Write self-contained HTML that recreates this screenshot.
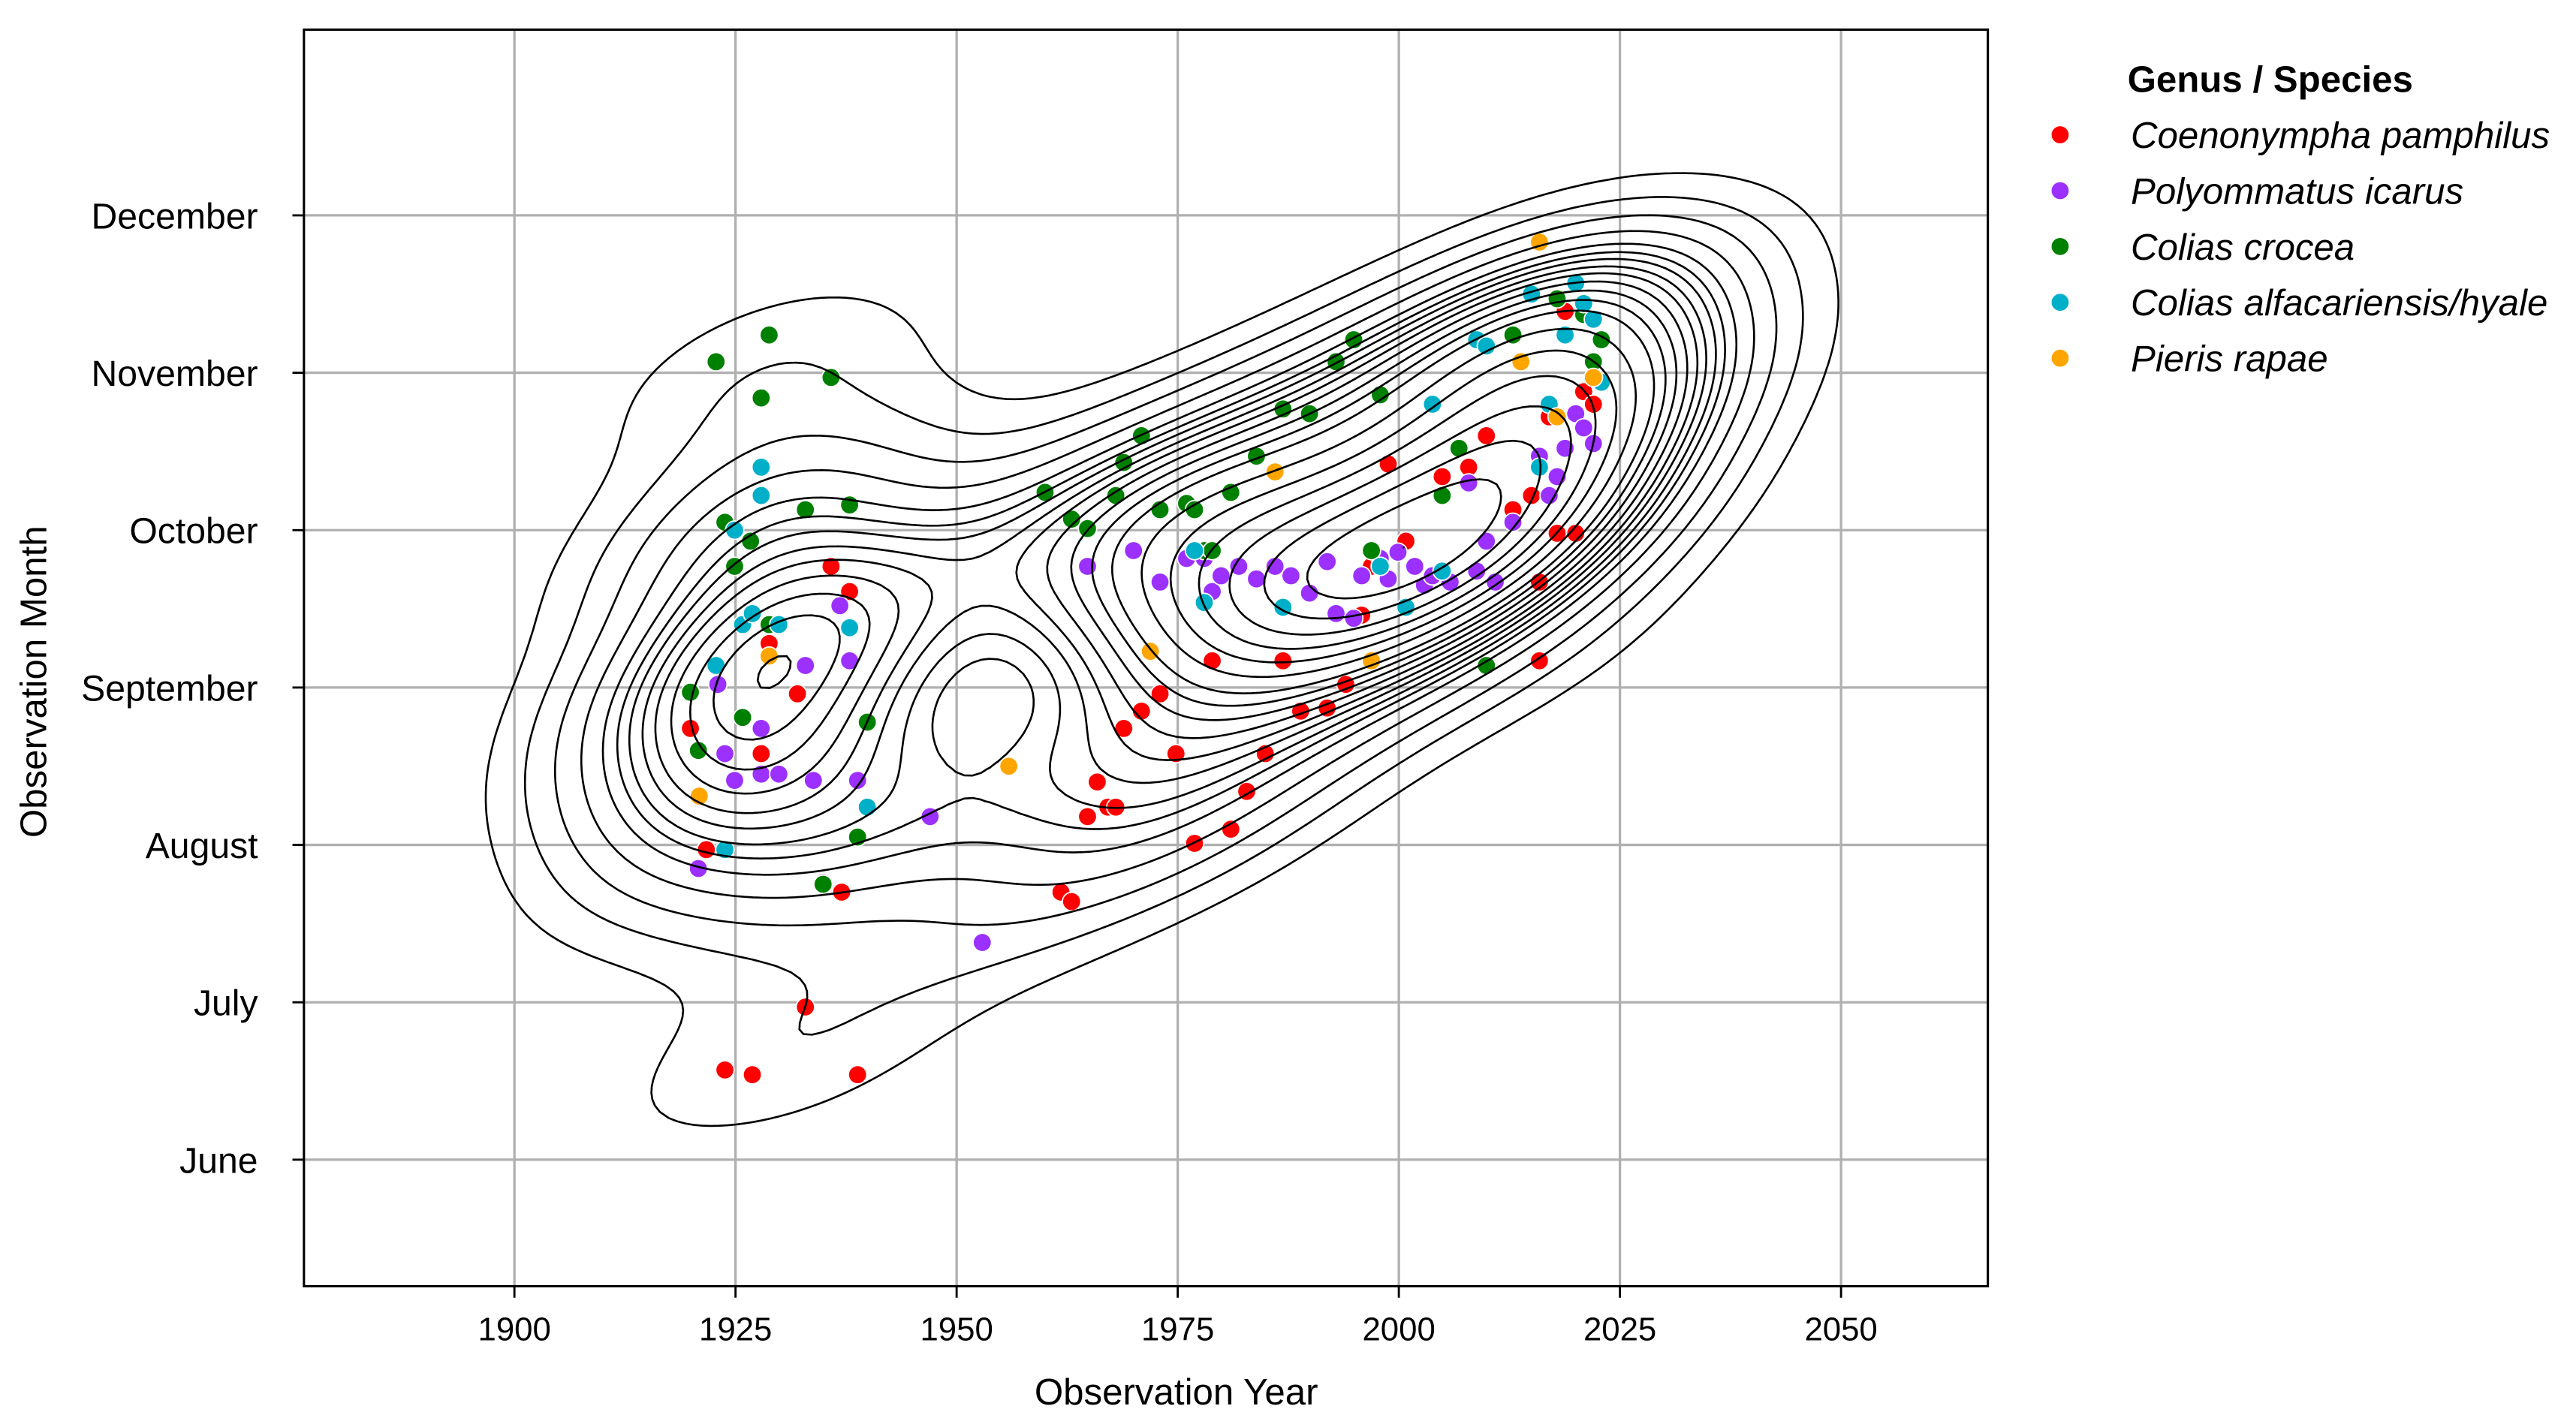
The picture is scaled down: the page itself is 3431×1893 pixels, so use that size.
<!DOCTYPE html>
<html><head><meta charset="utf-8">
<style>
html,body{margin:0;padding:0;background:#fff;}
svg{display:block;}
text{font-family:"Liberation Sans",Arial,sans-serif;fill:#000;}
</style></head>
<body>
<svg id="chart" width="3431" height="1893" viewBox="0 0 1568 865" xmlns="http://www.w3.org/2000/svg">
<g id="grid"></g>
<g id="pts"></g>
<g id="cont"></g>
<rect x="185" y="18" width="1025" height="765" fill="none" stroke="#000" stroke-width="1.4"/>
<g id="xt"></g>
<g id="yt"></g>
<text x="716" y="855" font-size="22.5" text-anchor="middle">Observation Year</text>
<text transform="translate(28,415) rotate(-90)" font-size="22.5" text-anchor="middle">Observation Month</text>
<g id="legend">
<text x="1295" y="56" font-size="22.5" font-weight="bold">Genus / Species</text>
</g>
</svg>
<script>
const xTicks=[1900,1925,1950,1975,2000,2025,2050];
const yTicks=[6,7,8,9,10,11,12];
const yTickLabels=["June","July","August","September","October","November","December"];
const species=["Coenonympha pamphilus","Polyommatus icarus","Colias crocea","Colias alfacariensis/hyale","Pieris rapae"];
const speciesColors=["#ff0000","#9b30ff","#008000","#00b0c8","#ffa500"];
const redYears=[1919.9,1921.7,1928.8,1927.9,1932,1935.8,1937.9,1937,1932.9,1923.8,1926.9,1938.8,1961.8,1963,1965.9,1964.8,1967.1,1968,1968.9,1970.9,1973,1974.8,1976.9,1978.9,1981,1982.8,1984.9,1986.9,1988.9,1991.9,1994,1995.8,1996.9,2000.8,1998.8,2004.9,2007.9,2009.9,2012.9,2015,2015.9,2015.9,2017.9,2020,2017,2020.9,2022,2018.8];
const redMonths=[8.74,7.97,9.28,8.58,8.96,9.77,9.61,7.70,6.97,6.57,6.54,6.54,7.70,7.64,8.40,8.18,8.24,8.24,8.74,8.85,8.96,8.58,8.01,9.17,8.10,8.34,8.58,9.17,8.85,8.87,9.02,9.46,9.77,9.93,10.42,10.34,10.40,10.60,10.13,10.22,9.67,9.17,9.98,9.98,10.72,10.88,10.80,11.39];
const purpleYears=[1920.8,1923,1923.8,1924.9,1927.9,1927.9,1929.9,1932.9,1933.8,1937.9,1936.8,1938.8,1934.9,1947,1952.9,1964.8,1970,1973,1976,1978,1978.9,1979.9,1981.9,1983.9,1986,1987.8,1989.9,1991.9,1992.9,1994.9,1995.8,1997.9,1998.8,1999.9,2001.8,2002.9,2003.8,2005.8,2007.9,2008.8,2010.9,2009.9,2012.9,2015.9,2017,2017.9,2018.8,2020,2020.9,2022];
const purpleMonths=[7.85,9.02,8.58,8.41,8.74,8.45,8.45,9.14,8.41,9.17,9.52,8.41,7.76,8.18,7.38,9.77,9.87,9.67,9.82,9.82,9.61,9.71,9.77,9.69,9.77,9.71,9.60,9.80,9.47,9.44,9.71,9.82,9.69,9.86,9.77,9.65,9.71,9.67,10.30,9.74,9.67,9.93,10.05,10.47,10.22,10.34,10.52,10.74,10.65,10.55];
const greenYears=[1922.8,1928.8,1927.9,1935.8,1923.8,1926.7,1924.9,1928.8,1919.9,1925.8,1920.8,1932.9,1937.9,1939.9,1938.8,1934.9,1960,1963,1964.8,1968,1968.9,1970.9,1973,1976,1976.9,1978,1978.9,1981,1983.9,1986.9,1989.9,1992.9,1994.9,1997.9,1996.9,2004.9,2006.8,2009.9,2012.9,2017.9,2020.9,2022.9,2022];
const greenMonths=[11.07,11.24,10.84,10.97,10.05,9.93,9.77,9.40,8.97,8.81,8.60,10.13,10.16,8.78,8.05,7.75,10.24,10.07,10.01,10.22,10.43,10.60,10.13,10.17,10.13,9.87,9.87,10.24,10.47,10.77,10.74,11.07,11.21,10.86,9.87,10.22,10.52,9.14,11.24,11.47,11.37,11.21,11.07];
const cyanYears=[1927.9,1927.9,1924.9,1925.8,1926.9,1929.9,1922.8,1937.9,1939.9,1923.8,1976.9,1978,1986.9,2000.8,2004.9,2003.8,2008.8,2009.9,2015,2015.9,2017,2018.8,2020,2020.9,2022,2022.9,1997.9];
const cyanMonths=[10.40,10.22,10.0,9.40,9.47,9.40,9.14,9.38,8.24,7.97,9.87,9.54,9.51,9.51,9.74,10.80,11.21,11.17,11.50,10.40,10.80,11.24,11.57,11.44,11.34,10.94,9.77];
const orangeYears=[1920.9,1928.8,1955.9,1971.9,1986,1996.9,2013.8,2015.9,2017.9,2022];
const orangeMonths=[8.31,9.20,8.50,9.23,10.37,9.17,11.07,11.83,10.72,10.97];

const NS='http://www.w3.org/2000/svg';
const X0=185,X1=1210,Y0=18,Y1=783;
const xmin=1876.2,xmax=2066.6,ymin=5.196,ymax=13.18;
const sx=v=>X0+(v-xmin)/(xmax-xmin)*(X1-X0);
const sy=v=>Y1-(v-ymin)/(ymax-ymin)*(Y1-Y0);
function el(tag,attrs,parent){const e=document.createElementNS(NS,tag);for(const k in attrs)e.setAttribute(k,attrs[k]);parent.appendChild(e);return e;}
const grid=document.getElementById('grid'),xt=document.getElementById('xt'),yt=document.getElementById('yt');
xTicks.forEach(t=>{const x=sx(t);
 const g=el('line',{x1:x,x2:x,y1:Y0,y2:Y1,stroke:'#b0b0b0','stroke-width':1.5},grid);
 
 
 const tk=el('line',{x1:x,x2:x,y1:Y1,y2:Y1+7,stroke:'#000','stroke-width':1.3},xt);
 
 
 const tx=el('text',{x:x,y:Y1+33,'font-size':20,'text-anchor':'middle'},xt);tx.textContent=t;
 
 
});
yTicks.forEach((t,i)=>{const y=sy(t);
 const g=el('line',{x1:X0,x2:X1,y1:y,y2:y,stroke:'#b0b0b0','stroke-width':1.5},grid);
 
 
 const tk=el('line',{x1:X0-7,x2:X0,y1:y,y2:y,stroke:'#000','stroke-width':1.3},yt);
 
 
 const tx=el('text',{x:X0-28,y:y+8,'font-size':22,'text-anchor':'end'},yt);tx.textContent=yTickLabels[i];
 
 
});
const sets=[[redYears,redMonths],[purpleYears,purpleMonths],[greenYears,greenMonths],[cyanYears,cyanMonths],[orangeYears,orangeMonths]];
const pts=document.getElementById('pts');
const allX=[],allY=[];
sets.forEach((s,k)=>{s[0].forEach((yr,i)=>{
 allX.push(yr);allY.push(s[1][i]);
 const c=el('circle',{cx:sx(yr),cy:sy(s[1][i]),r:5.6,fill:speciesColors[k],stroke:'#fff','stroke-width':0.8},pts);
 
 
});});
const lg=document.getElementById('legend');
species.forEach((s,i)=>{const y=82+i*34;
 const c=el('circle',{cx:1254,cy:y,r:5.6,fill:speciesColors[i],stroke:'#fff','stroke-width':0.8},lg);
 
 
 const t=el('text',{x:1297,y:y+8,'font-size':22.5,'font-style':'italic'},lg);t.textContent=s;
 
 
});
// KDE (scott, full covariance)
const n=allX.length;
const mx=allX.reduce((a,b)=>a+b)/n,my=allY.reduce((a,b)=>a+b)/n;
let cxx=0,cyy=0,cxy=0;for(let i=0;i<n;i++){const dx=allX[i]-mx,dy=allY[i]-my;cxx+=dx*dx;cyy+=dy*dy;cxy+=dx*dy;}
cxx/=(n-1);cyy/=(n-1);cxy/=(n-1);
const f=Math.pow(n,-1/6),f2=f*f;
const a=cxx*f2,b=cxy*f2,d=cyy*f2,det=a*d-b*b;
const ia=d/det,ib=-b/det,id=a/det;
const bwx=Math.sqrt(a),bwy=Math.sqrt(d);
const gx0=Math.min(...allX)-3*bwx,gx1=Math.max(...allX)+3*bwx,gy0=Math.min(...allY)-3*bwy,gy1=Math.max(...allY)+3*bwy;
const G=200;const Z=[];
for(let j=0;j<G;j++){Z.push(new Float64Array(G));const yv=gy0+(gy1-gy0)*j/(G-1);
 for(let i=0;i<G;i++){const xv=gx0+(gx1-gx0)*i/(G-1);let s=0;
  for(let k=0;k<n;k++){const dx=xv-allX[k],dy=yv-allY[k];s+=Math.exp(-0.5*(ia*dx*dx+2*ib*dx*dy+id*dy*dy));}
  Z[j][i]=s;}}
const vals=[];Z.forEach(r=>r.forEach(v=>vals.push(v)));
const sorted=vals.slice().sort((p,q)=>q-p);const tot=sorted.reduce((p,q)=>p+q);
const cum=[];let acc=0;sorted.forEach(v=>{acc+=v;cum.push(acc/tot);});
const NL=20;
const levels=[];for(let l=0;l<NL;l++){const q=0.05+(0.95)*l/(NL-1);const target=1-q;let idx=cum.findIndex(c=>c>=target);if(idx<0)idx=sorted.length-1;levels.push(sorted[idx]);}
const cont=document.getElementById('cont');
levels.forEach(L=>{let dstr='';
 for(let j=0;j<G-1;j++)for(let i=0;i<G-1;i++){
  const v=[Z[j][i],Z[j][i+1],Z[j+1][i+1],Z[j+1][i]];
  const P=[[i,j],[i+1,j],[i+1,j+1],[i,j+1]];
  const cr=[];
  for(let e=0;e<4;e++){const p=v[e],q=v[(e+1)%4];if((p>=L)!==(q>=L)){const t=(L-p)/(q-p);const A=P[e],B=P[(e+1)%4];
   const gi=A[0]+(B[0]-A[0])*t,gj=A[1]+(B[1]-A[1])*t;
   cr.push([sx(gx0+(gx1-gx0)*gi/(G-1)),sy(gy0+(gy1-gy0)*gj/(G-1))]);}}
  for(let k=0;k+1<cr.length;k+=2)dstr+='M'+cr[k][0].toFixed(2)+' '+cr[k][1].toFixed(2)+'L'+cr[k+1][0].toFixed(2)+' '+cr[k+1][1].toFixed(2);
 }
 if(dstr){const p=el('path',{d:dstr,fill:'none',stroke:'#000','stroke-width':1.2,'stroke-linecap':'round'},cont);
 
 }
});
</script>
</body></html>
